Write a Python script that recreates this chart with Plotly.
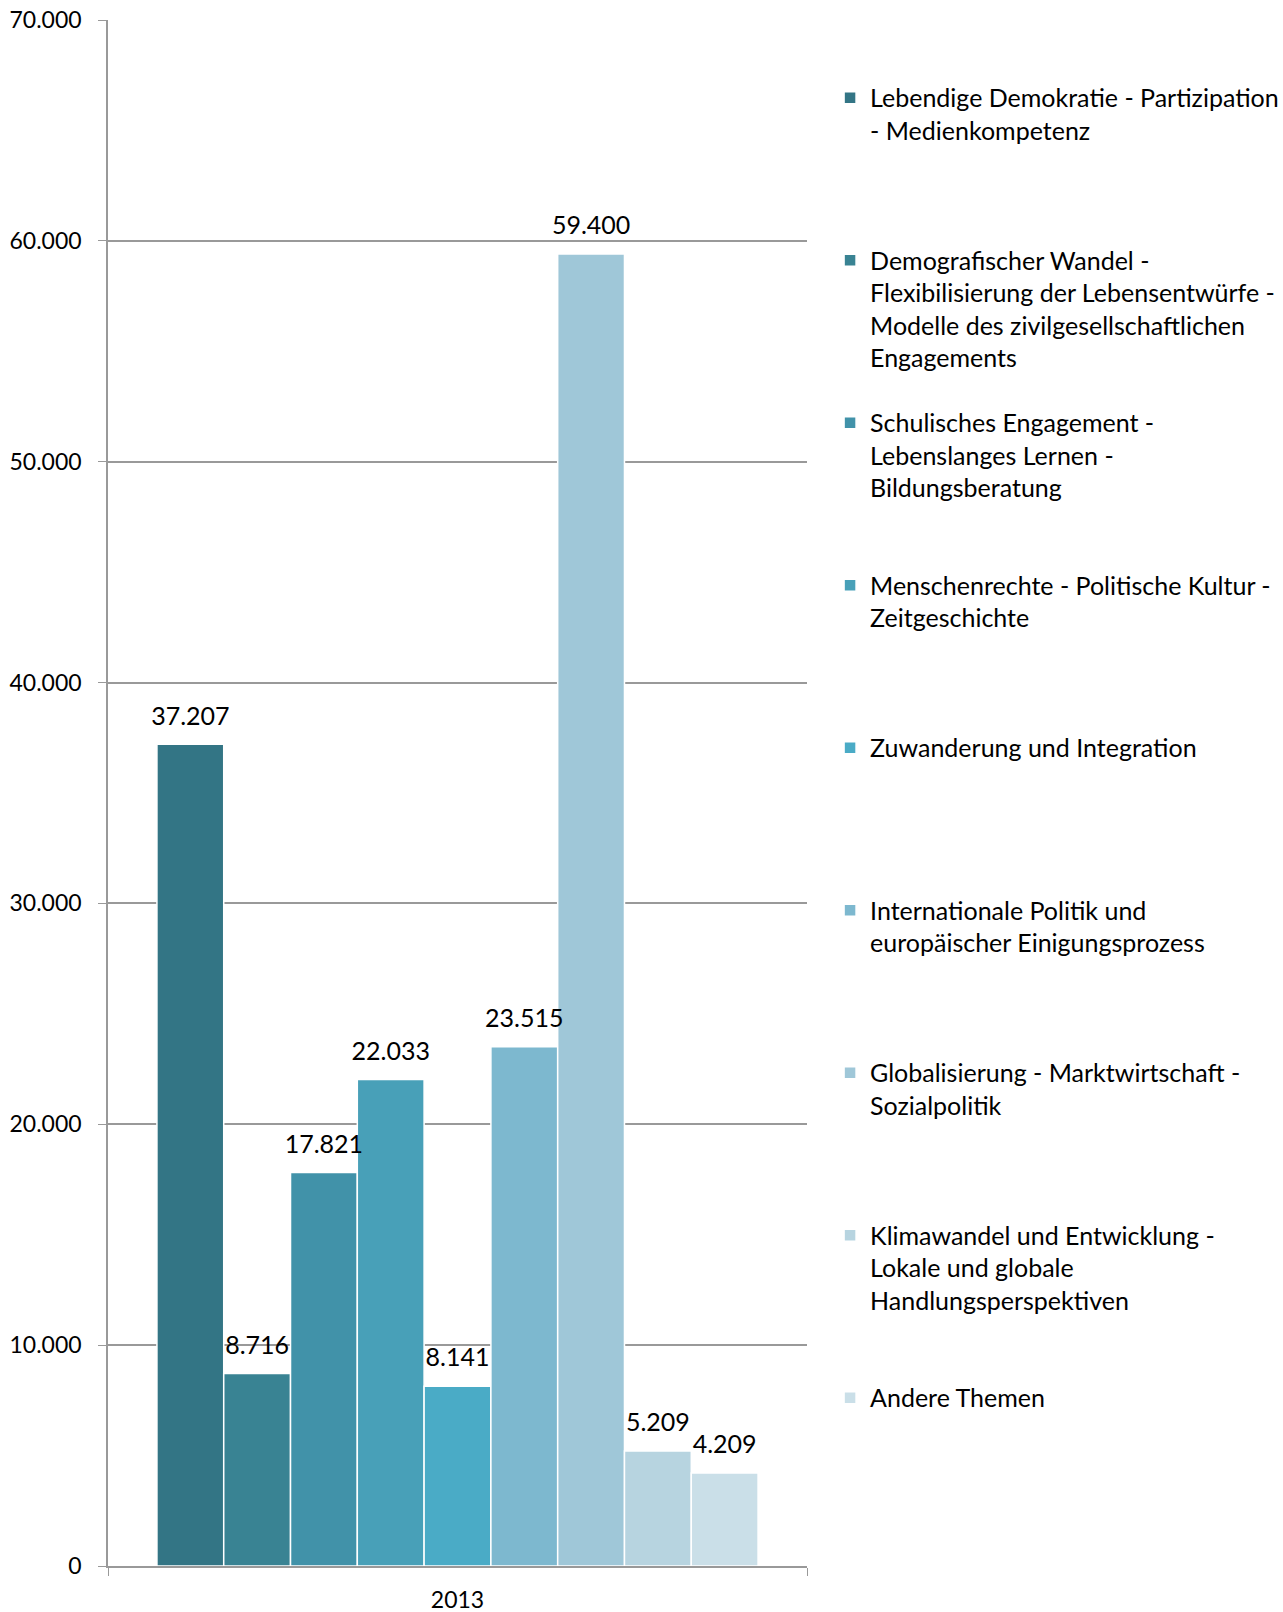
import plotly.graph_objects as go

categories = ["2013"]
series_names = [
    "Lebendige Demokratie - Partizipation<br>- Medienkompetenz",
    "Demografischer Wandel -<br>Flexibilisierung der Lebensentwürfe -<br>Modelle des zivilgesellschaftlichen<br>Engagements",
    "Schulisches Engagement -<br>Lebenslanges Lernen -<br>Bildungsberatung",
    "Menschenrechte - Politische Kultur -<br>Zeitgeschichte",
    "Zuwanderung und Integration",
    "Internationale Politik und<br>europäischer Einigungsprozess",
    "Globalisierung - Marktwirtschaft -<br>Sozialpolitik",
    "Klimawandel und Entwicklung -<br>Lokale und globale<br>Handlungsperspektiven",
    "Andere Themen",
]
values = [37207, 8716, 17821, 22033, 8141, 23515, 59400, 5209, 4209]
colors = ["#337585", "#398393", "#4192a9", "#48a0b8", "#4aabc6",
          "#7db8cf", "#9fc7d8", "#b7d4e0", "#cadfe8"]

FONT = "Lato"
FS = 25
FS_TICK = 23
MAXLINES = 4
GAP = 0.14

fig = go.Figure()
for i, (name, v, c) in enumerate(zip(series_names, values, colors)):
    n = name.count("<br>") + 1
    padded = name + "<br>\u00a0" * (MAXLINES - n)
    fig.add_trace(go.Bar(
        x=categories, y=[v], name=padded, legendgroup=f"g{i}",
        offsetgroup=f"g{i}",
        marker=dict(color=c, line=dict(color="white", width=1.5)),
        hoverinfo="y",
    ))

# value labels drawn on top of all bars (scatter layer sits above bars)
for i, v in enumerate(values):
    fig.add_trace(go.Scatter(
        x=categories, y=[v], mode="markers+text", offsetgroup=f"g{i}",
        text=[v], texttemplate="%{y:,.0f}", textposition="top center",
        textfont=dict(color="black", size=FS, family=FONT),
        marker=dict(size=20, opacity=0),
        showlegend=False, hoverinfo="skip", cliponaxis=False,
    ))

fig.update_layout(
    width=1283, height=1612,
    margin=dict(l=108, r=476, t=20, b=46, autoexpand=False),
    paper_bgcolor="white", plot_bgcolor="white",
    separators=",.",
    barmode="group", bargap=GAP, bargroupgap=0,
    scattermode="group", scattergap=GAP,
    font=dict(family=FONT, size=FS, color="black"),
    showlegend=True,
    legend=dict(x=1.033, xanchor="left", y=0.9645, yanchor="top",
                valign="top", tracegroupgap=29.5,
                font=dict(family=FONT, size=FS, color="black"),
                bgcolor="rgba(0,0,0,0)"),
    xaxis=dict(showline=True, linecolor="#999999", linewidth=1.5,
               ticks="outside", tickson="boundaries", ticklen=8,
               tickcolor="#999999", ticklabelstandoff=13,
               showgrid=False, tickfont=dict(size=FS_TICK)),
    yaxis=dict(range=[0, 70000], dtick=10000, tickformat=",.0f",
               showgrid=True, gridcolor="#999999", gridwidth=1.5,
               showline=True, linecolor="#999999", linewidth=1.5,
               ticks="outside", ticklen=8, tickcolor="#999999",
               ticklabelstandoff=12,
               zeroline=False, tickfont=dict(size=FS_TICK)),
)

fig.write_html("out.html")
